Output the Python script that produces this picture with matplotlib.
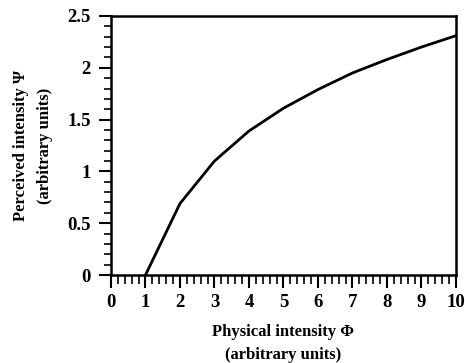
import numpy as np
import matplotlib.pyplot as plt
from matplotlib.ticker import MultipleLocator

phi = [1, 2, 3, 4, 5, 6, 7, 8, 9, 10]
psi = [0.0, 0.69, 1.10, 1.39, 1.61, 1.79, 1.95, 2.08, 2.20, 2.31]

x_ticks = list(range(0, 11))
y_ticks = [0, 0.5, 1, 1.5, 2, 2.5]
y_labels = ["0", "0.5", "1", "1.5", "2", "2.5"]

plt.rcParams['font.family'] = ['Liberation Serif', 'DejaVu Serif']
plt.rcParams['font.weight'] = 'bold'

fig = plt.figure(figsize=(4.65, 3.63), dpi=100)
ax = fig.add_axes([0.2387, 0.2424, 0.7419, 0.7136])

ax.plot(phi, psi, color="black", linewidth=2.0)

ax.set_xlim(0, 10)
ax.set_ylim(0, 2.5)
ax.set_xticks(x_ticks)
ax.set_xticklabels([str(t) for t in x_ticks], fontsize=13.5, fontweight="bold")
ax.set_yticks(y_ticks)
ax.set_yticklabels(y_labels, fontsize=13.5, fontweight="bold")
ax.xaxis.set_minor_locator(MultipleLocator(0.2))
ax.yaxis.set_minor_locator(MultipleLocator(0.1))

ax.tick_params(axis="x", which="major", direction="out", length=9.4, width=1.5, pad=4.5)
ax.tick_params(axis="x", which="minor", direction="out", length=6.5, width=1.2)
ax.tick_params(axis="y", which="major", direction="out", length=8.6, width=1.5, pad=6)
ax.tick_params(axis="y", which="minor", direction="out", length=5, width=1.2)
for s in ax.spines.values():
    s.set_linewidth(1.8)

ax.set_xlabel("Physical intensity \u03a6\n(arbitrary units)", fontsize=12,
              fontweight="bold", labelpad=9, linespacing=1.58)
ax.set_ylabel("Perceived intensity \u03a8\n(arbitrary units)", fontsize=12,
              fontweight="bold", labelpad=10, linespacing=1.72)

fig.savefig("out.png", dpi=100)
